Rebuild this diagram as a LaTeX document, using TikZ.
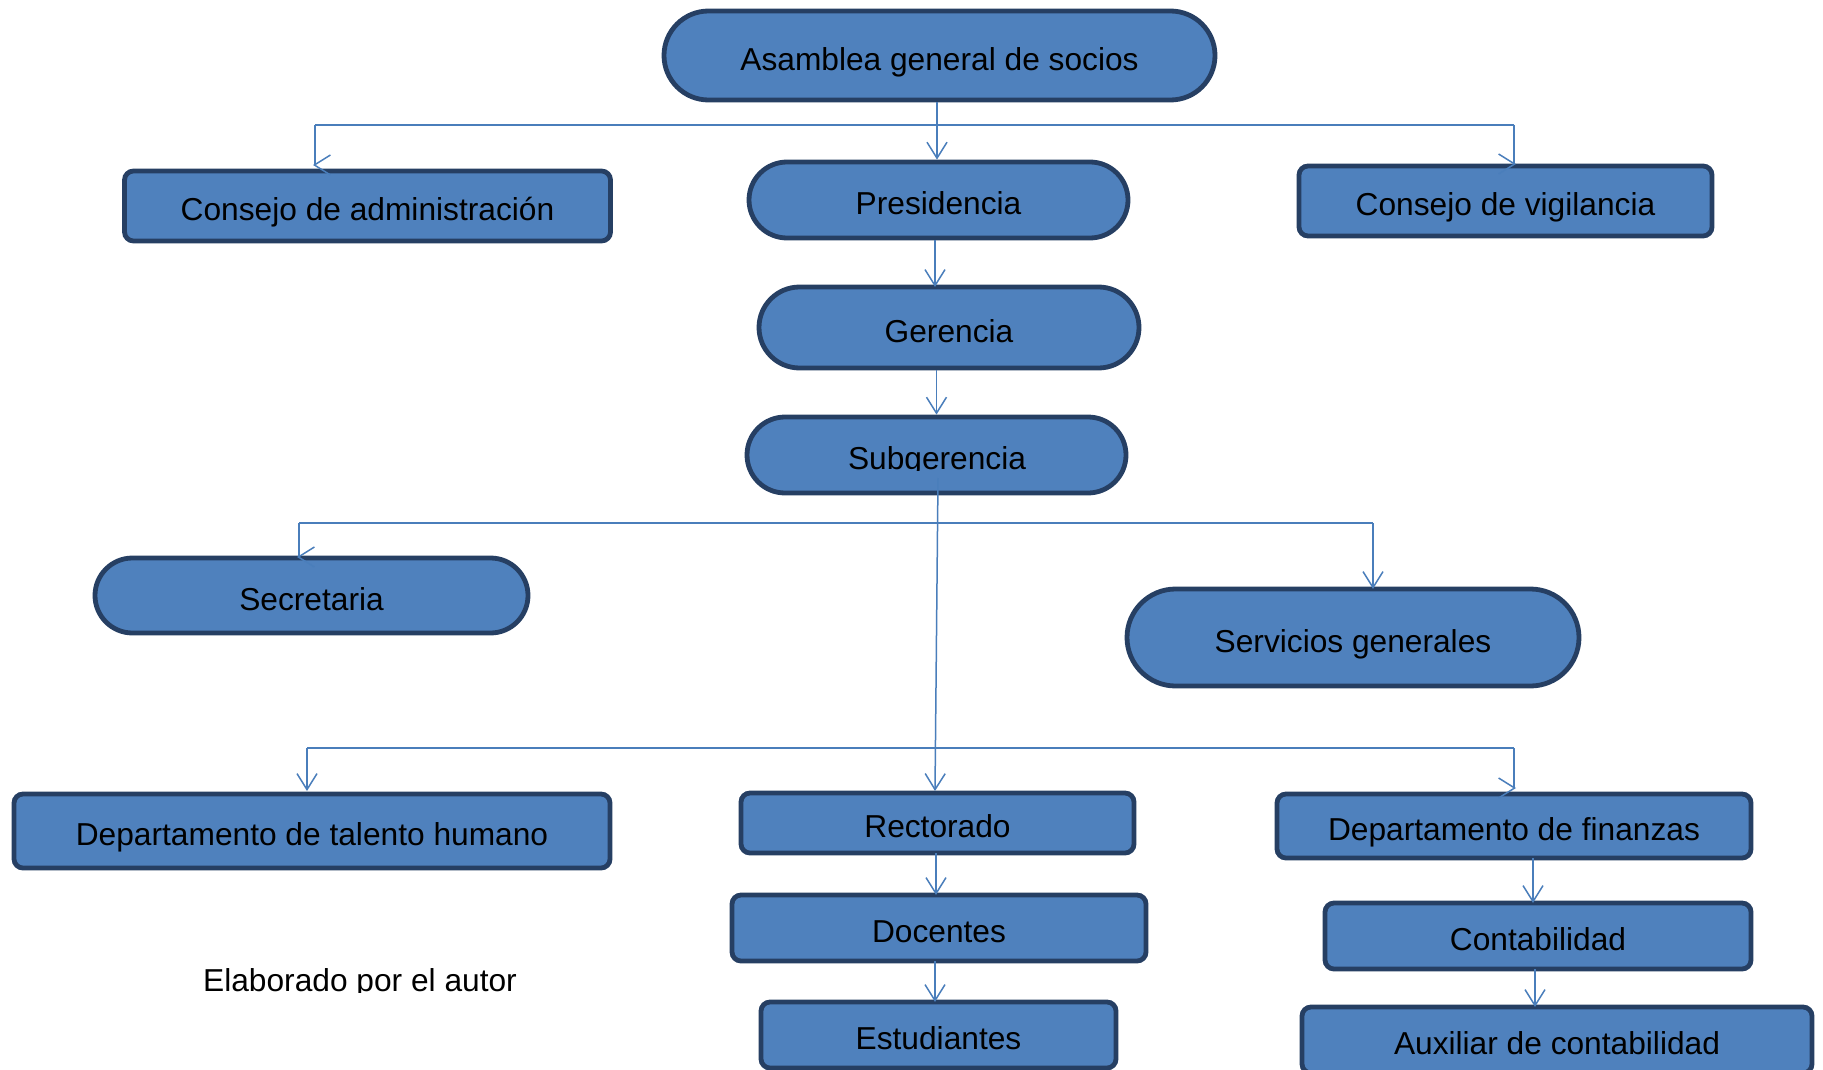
\documentclass[tikz,border=0pt]{standalone}
\usepackage{fontspec}
\setmainfont{Liberation Sans}
\usetikzlibrary{arrows.meta,shapes.misc}
\definecolor{boxfill}{HTML}{4F81BD}
\definecolor{boxline}{HTML}{263F63}
\definecolor{conncol}{HTML}{4A7EBB}
\newcommand{\orgfont}{\fontsize{31.7pt}{38pt}\selectfont}
\begin{document}
\begin{tikzpicture}[x=1pt,y=-1pt,
  base/.style={draw=boxline, fill=boxfill, line width=4.8pt, inner sep=0pt, font=\orgfont, text=black, text height=29.5pt, text depth=0pt},
  rbox/.style={base, rectangle, rounded corners=9pt},
  pill/.style={base, rounded rectangle},
  wire/.style={draw=conncol, line width=1.5pt},
  conn/.style={draw=conncol, line width=1.5pt, -{Straight Barb[length=16pt,width=20pt,line width=1.5pt]}},
  plain/.style={font=\orgfont, text=black, inner sep=0pt}
]
\useasboundingbox[fill=white] (0,0) rectangle (1823,1070);

% boxes
\node[pill, minimum width=551pt, minimum height=89pt] (asamblea) at (939.5,55.5) {Asamblea general de socios};
\node[rbox, minimum width=486pt, minimum height=70pt] (consejoA) at (367.5,206) {Consejo de administración};
\node[pill, minimum width=379pt, minimum height=76pt] (presidencia) at (938.5,200) {Presidencia};
\node[rbox, minimum width=413pt, minimum height=70pt] (vigilancia) at (1505.5,201) {Consejo de vigilancia};
\node[pill, minimum width=380pt, minimum height=81pt] (gerencia) at (949,327.5) {Gerencia};
\node[pill, minimum width=379pt, minimum height=76pt] (subgerencia) at (936.5,455) {};
\begin{scope}
  \clip (745,415) rectangle (1128,470);
  \node[plain, anchor=base] (subgtext) at (937,469) {Subgerencia};
\end{scope}
\node[pill, minimum width=433pt, minimum height=75pt] (secretaria) at (311.5,595.5) {Secretaria};
\node[pill, minimum width=452pt, minimum height=97pt] (servicios) at (1353,637.5) {Servicios generales};
\node[rbox, minimum width=596pt, minimum height=74pt] (talento) at (312,831) {Departamento de talento humano};
\node[rbox, minimum width=393pt, minimum height=60pt] (rectorado) at (937.5,823) {Rectorado};
\node[rbox, minimum width=474pt, minimum height=64pt] (finanzas) at (1514,826) {Departamento de finanzas};
\node[rbox, minimum width=414pt, minimum height=66pt] (docentes) at (939,928) {Docentes};
\node[rbox, minimum width=426pt, minimum height=66pt] (contabilidad) at (1538,936) {Contabilidad};
\node[rbox, minimum width=355pt, minimum height=66pt] (estudiantes) at (938.5,1035) {Estudiantes};
\node[rbox, minimum width=510pt, minimum height=66pt] (auxiliar) at (1557,1040) {Auxiliar de contabilidad};

\begin{scope}
  \clip (150,940) rectangle (600,992);
  \node[plain, anchor=base] (autor) at (360,991) {Elaborado por el autor};
\end{scope}

% connectors
\coordinate (busA) at (937,125);
\draw[wire] (315,125) -- (1514,125);
\draw[conn] (asamblea.south -| busA) -- (busA |- presidencia.north);
\draw[conn] (315,125) -- (315,165) -- ++(-2,0);
\draw[conn] (1514,125) -- (1514,164) -- ++(2,0);

\draw[conn] (presidencia.south -| 935,0) -- (935,287);
\draw[conn] (subgerencia.north |- gerencia.south) -- (subgerencia.north);

\coordinate (sgout) at (938,478);
\draw[wire] (299,523) -- (1373,523);
\draw[conn] (299,523) -- (299,557) -- ++(-2,0);
\draw[conn] (1373,523) -- (1373 ,589);
\draw[conn] (sgout) -- (935,791);

\draw[wire] (307,748) -- (1514,748);
\draw[conn] (307,748) -- (307,791);
\draw[conn] (1514,748) -- (1514,788) -- ++(2,0);

\draw[conn] (936,853) -- (936,895);
\draw[conn] (935,961) -- (935,1002);
\draw[conn] (1533,858) -- (1533,903);
\draw[conn] (1535,969) -- (1535,1007);
\end{tikzpicture}
\end{document}
